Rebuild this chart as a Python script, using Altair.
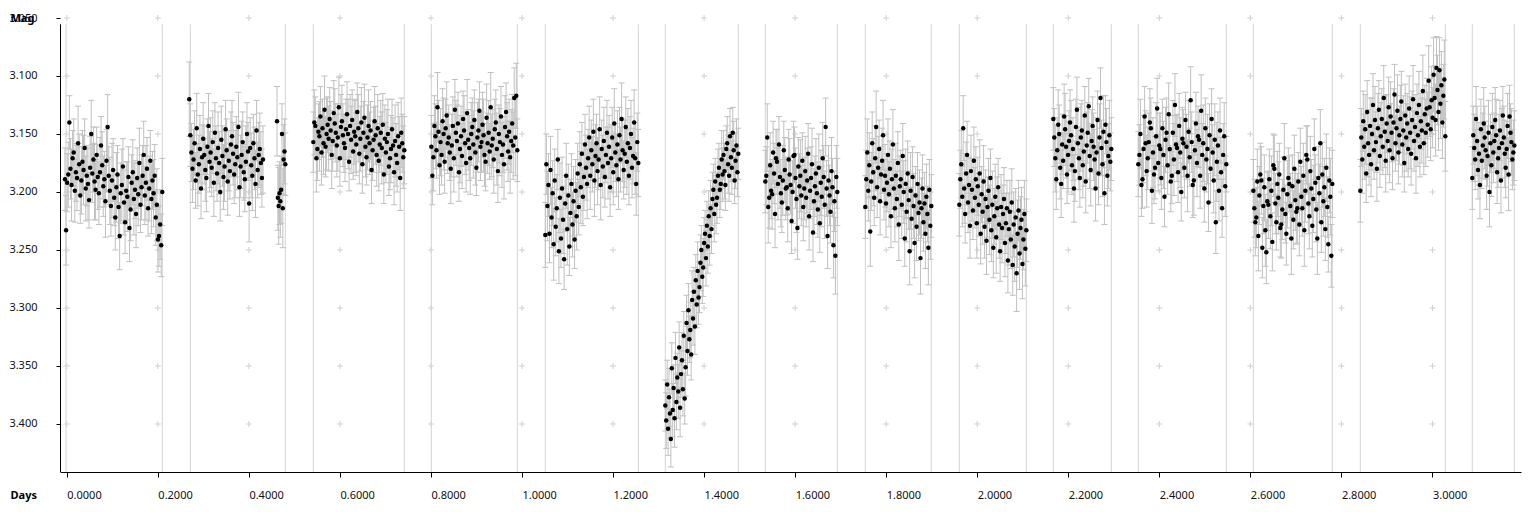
import altair as alt
import numpy as np
import pandas as pd

# ---- axis ticks / ranges -------------------------------------------------
X_TICKS = [0.0, 0.2, 0.4, 0.6, 0.8, 1.0, 1.2, 1.4, 1.6, 1.8, 2.0, 2.2, 2.4, 2.6, 2.8, 3.0]
Y_TICKS = [3.05, 3.10, 3.15, 3.20, 3.25, 3.30, 3.35, 3.40]
X_DOMAIN = [-0.01494, 3.1946]
Y_DOMAIN = [3.05, 3.44138]
Y_AXIS_TOP = 3.0554

# night boundaries (days)
SEPARATORS = [-0.0018, 0.2098, 0.2713, 0.4800, 0.5415, 0.7414, 0.8008, 0.9897,
              1.0512, 1.2555, 1.3148, 1.4752, 1.5345, 1.6927, 1.7542, 1.8992,
              1.9607, 2.1079, 2.1672, 2.2946, 2.3539, 2.5472, 2.6066, 2.7801,
              2.8416, 3.0283, 3.0876, 3.1799]

# ---- observations: magnitude - 3.000 and its error, both in thousandths --
M1 = [189,233,192,185,140,180,194,171,166,199, 183,188,158,176,203,190,174,181,162,197,
      186,193,207,179,150,184,172,191,198,168, 187,201,183,160,177,195,189,208,173,144,
      186,199,212,190,181,205,222,196,185,213, 238,201,194,178,209,226,199,204,187,231,
      215,192,183,206,198,219,188,202,175,211, 196,186,168,203,192,180,214,197,173,206,
      190,201,186,222,211,241,238,228,246,200]
E1 = [27,30,25,28,23,26,31,24,29,27, 25,28,32,26,24,29,27,30,25,28, 26,31,24,27,29,25,28,33,26,24,
      28,27,30,25,29,26,24,31,27,28, 25,29,26,32,27,24,28,30,25,27, 29,26,31,24,28,27,25,30,26,29,
      27,24,28,31,25,29,26,27,30,24, 28,26,29,25,32,27,24,28,26,30, 25,29,27,24,31,28,26,30,27,29]

M2A = [120,151,166,180,172,158,190,145,185,176, 163,197,170,154,168,181,188,161,143,174,
       166,179,157,192,149,171,184,162,175,200, 155,169,187,178,146,164,191,173,182,159,
       152,167,185,176,161,170,144,196,178,168, 157,183,189,174,150,165,210,162,177,186,
       158,171,193,147,181,168,163,175,188,172]
E2A = [32,27,25,29,26,28,24,30,27,25, 29,26,28,31,25,27,29,24,28,26, 30,25,27,29,26,28,24,31,27,25,
       29,26,28,30,25,27,29,26,24,28, 31,27,25,29,26,28,30,25,27,29, 26,24,28,31,27,25,33,26,28,30,
       25,27,29,26,24,28,31,27,25,29]

M2B = [139,205,212,201,208,198,150,214,172,165,176]
E2B = [30,28,33,27,31,29,26,34,30,28,27]

M3 = [157,140,143,171,163,148,152,135,166,145, 158,129,161,150,142,154,137,147,168,156,
      132,141,149,160,153,127,171,144,139,151, 158,162,146,133,150,174,143,155,138,165,
      148,152,159,131,145,167,154,140,176,149, 136,161,170,153,143,158,147,181,164,155,
      139,151,168,145,173,159,149,162,142,185, 154,166,157,150,178,171,163,146,160,183,
      156,168,175,152,161,188,149,158,170,164]
E3 = [26,28,25,29,27,24,30,26,28,25, 27,29,26,31,24,28,27,25,29,26, 28,30,25,27,29,26,24,28,31,27,
      25,29,26,28,30,25,27,29,26,24, 28,31,27,25,29,26,28,30,25,27, 29,26,24,28,31,27,25,29,26,28,
      30,25,27,29,26,24,28,31,27,25, 29,26,28,30,25,27,29,26,24,28, 31,27,25,29,26,28,30,25,27,29]

M4 = [161,186,170,143,152,164,127,148,177,157, 168,139,150,174,145,134,158,153,166,180,
      160,143,171,129,149,156,141,183,163,152, 169,137,147,158,175,132,155,162,171,150,
      144,159,138,166,179,153,147,130,161,157, 142,151,168,174,136,158,149,165,127,160,
      154,172,146,140,163,182,150,157,135,168, 159,176,144,131,152,165,148,170,156,141,
      160,119,153,117,164]
E4 = [27,25,29,26,28,24,30,27,25,29, 26,28,31,27,25,29,26,28,24,30, 27,25,29,26,28,31,27,25,29,26,
      28,24,30,27,25,29,26,28,31,27, 25,29,26,28,24,30,27,25,29,26, 28,31,27,25,29,26,28,24,30,27,
      25,29,26,28,31,27,25,29,26,28, 24,30,27,25,29,26,28,31,27,25, 29,26,33,28,27]

M5 = [237,176,212,194,236,181,222,201,245,190, 230,214,172,251,205,240,197,224,258,210,
      186,232,203,247,218,193,228,208,241,199, 221,184,213,176,196,167,204,187,159,179,
      193,171,153,186,164,176,148,190,169,158, 182,172,146,194,163,178,156,187,168,149,
      175,161,196,171,153,183,141,166,177,159, 189,151,172,137,164,181,167,144,174,158,
      186,162,150,179,169,140,171,193,157,175]
E5 = [28,26,30,27,25,29,26,28,31,27, 25,29,26,28,30,25,27,29,26,24, 28,31,27,25,29,26,28,30,25,27,
      29,26,24,28,31,27,25,29,26,28, 30,25,27,29,26,24,28,31,27,25, 29,26,28,30,25,27,29,26,24,28,
      31,27,25,29,26,28,30,25,27,29, 26,24,28,31,27,25,29,26,28,30, 25,27,29,26,24,28,31,27,25,29]

M6 = [384,397,366,404,377,391,413,352,388,369, 395,343,381,360,372,334,386,357,345,370,
      324,378,351,313,337,302,327,319,340,293, 309,286,316,276,297,268,291,282,261,250,
      273,265,244,236,257,229,247,221,238,214, 232,206,198,219,191,211,205,186,179,198,
      193,172,185,168,182,194,163,158,176,186, 152,170,179,149,164,190,173,160,183,167]
E6 = [22,24,21,23,25,21,24,22,23,20, 25,22,24,21,23,22,25,20,24,23, 21,22,25,24,21,23,20,24,22,25,
      23,21,24,22,20,25,23,22,24,21, 23,25,22,20,24,21,23,22,25,24, 21,23,22,24,20,25,22,23,21,24,
      22,25,23,21,24,22,20,23,25,22, 24,21,23,22,25,20,24,23,21,22]

M7 = [191,186,153,213,205,177,199,202,166,184, 219,171,174,193,159,187,201,209,190,164,
      181,197,196,214,172,185,194,225,200,169, 168,188,206,231,178,195,186,203,173,213,
      197,182,205,190,167,221,199,188,176,235, 208,195,184,201,215,179,227,192,204,171,
      187,211,144,197,238,190,203,217,182,196, 246,208,255,187,200]
E7 = [27,25,29,31,26,28,24,30,27,26, 29,25,28,31,24,27,29,26,30,25, 28,27,24,29,26,31,25,28,27,30,
      24,26,29,27,25,28,31,26,24,29, 27,30,25,28,26,29,24,27,31,25, 28,26,30,27,24,29,25,28,26,31,
      27,29,25,24,28,30,26,27,29,25, 28,26,33,27,29]

M8 = [213,189,166,199,177,234,191,158,183,205, 171,144,196,179,163,208,185,173,151,198,
      186,210,192,168,202,180,221,189,159,197, 214,186,206,175,228,195,189,211,169,200,
      240,193,217,184,207,251,199,223,187,212, 244,203,230,193,218,209,257,214,197,226,
      210,236,204,219,248,198,229,212]
E8 = [27,25,29,26,28,30,25,27,29,24, 28,31,26,27,25,29,24,28,30,26, 27,29,25,31,28,24,27,26,30,25,
      29,28,24,27,31,26,25,29,28,27, 24,30,26,28,25,29,33,27,26,28, 30,25,29,27,24,28,31,26,29,25,
      27,30,28,24,32,26,29,27]

M9 = [211,189,176,204,145,197,219,184,168,209, 194,229,182,198,216,173,205,189,227,195,
      211,184,236,202,217,191,230,206,242,213, 199,224,188,233,211,248,221,204,239,214,
      196,228,251,213,231,219,206,244,227,214, 259,232,217,241,209,263,228,247,222,270,
      236,216,253,231,224,262,241,219,249,233]
E9 = [27,25,29,26,28,30,25,27,29,26, 24,28,31,27,25,29,26,28,30,25, 27,29,26,24,28,31,27,25,29,26,
      28,30,25,27,29,26,24,28,31,27, 25,29,26,28,30,25,27,29,26,24, 28,31,27,25,29,26,28,30,25,33,
      29,26,31,27,28,30,26,29,32,27]

M10 = [137,153,171,189,164,142,150,179,193,159, 173,135,146,161,185,168,156,140,151,177,
       163,197,182,144,129,158,171,188,153,147, 177,165,134,191,160,149,126,169,181,156,
       143,161,172,197,166,138,184,153,119,162, 176,148,201,142,157,186,169,151,174,163]
E10 = [27,25,29,26,28,30,25,27,29,26, 24,28,31,27,25,29,26,28,30,25, 27,29,26,24,28,31,27,25,29,26,
       28,30,25,27,29,26,24,28,31,27, 25,29,26,28,30,25,27,29,26,24, 28,31,27,25,29,26,28,30,25,27]

M11 = [176,168,150,194,189,163,135,158,182,171, 157,140,145,199,166,185,179,152,128,175,
       160,163,188,145,168,204,155,149,177,133, 163,191,186,149,172,125,159,162,183,143,
       166,200,154,158,179,138,161,186,148,170, 121,157,194,190,164,141,175,152,155,186,
       130,168,158,197,145,172,163,209,151,180, 137,166,190,155,226,174,160,199,147,183,
       214,168,152,195,176]
E11 = [28,26,30,27,25,29,26,28,31,27, 25,29,26,28,30,25,27,29,26,24, 28,31,27,25,29,26,28,30,25,27,
       29,26,24,28,31,27,25,29,26,28, 30,25,27,29,26,24,28,31,27,25, 29,26,28,30,25,27,29,26,24,28,
       31,27,33,29,26,28,30,25,27,29, 26,24,28,31,27,34,29,26,28,30, 25,27,29,26,24]

M12 = [199,214,226,222,191,238,203,185,190,248, 212,196,233,252,208,211,189,221,199,243,
       177,180,210,226,193,205,185,231,228,215, 198,171,219,236,202,188,193,212,240,195,
       224,180,207,217,214,191,228,174,204,214, 186,233,199,168,172,210,221,182,197,229,
       206,163,192,215,240,188,201,158,226,185, 208,196,232,179,213,245,190,204,255,193]
E12 = [27,25,29,26,28,30,25,27,29,26, 24,28,31,27,25,29,26,28,30,25, 27,29,26,24,28,31,27,25,29,26,
       28,30,25,27,29,26,24,28,31,27, 25,29,26,28,30,25,27,29,26,24, 28,31,27,25,29,26,28,30,25,27,
       29,26,24,28,31,27,25,29,26,28, 30,25,27,29,26,24,28,33,27,29]

M13 = [199,153,172,139,161,146,184,131,158,168, 143,176,150,125,164,138,157,180,145,129,
       169,152,137,161,119,148,173,141,156,127, 164,135,149,171,140,116,158,145,130,166,
       151,137,122,159,147,175,134,153,141,163, 128,149,167,138,120,156,144,171,132,151,
       125,161,139,147,113,158,133,149,128,142, 104,127,146,121,136,99,119,138,93,112,
       131,95,124,108,140,117,103,152]
E13 = [27,25,29,26,28,30,25,27,29,26, 24,28,31,27,25,29,26,28,30,25, 27,29,26,24,28,31,27,25,29,26,
       28,30,25,27,29,26,24,28,31,27, 25,29,26,28,30,25,27,29,26,24, 28,31,27,25,29,26,28,30,25,27,
       29,26,24,28,31,27,25,29,26,28, 30,25,27,29,26,32,28,31,27,30, 33,28,30,29,31,27,34,30]

M14 = [188,151,162,172,137,156,181,167,194,146, 173,160,141,153,164,186,169,149,200,158,
       177,144,166,156,138,151,183,171,162,147, 190,158,134,153,167,179,163,143,185,135,
       149,157,172,166,160]
E14 = [27,25,29,26,28,30,25,27,29,26, 24,28,31,27,25,29,26,28,30,25, 27,29,26,24,28,31,27,25,29,26,
       28,30,25,27,29,26,24,28,31,27, 25,29,26,28,30]

# (start day, end day, magnitudes, errors)
SEGMENTS = [(-0.0040, 0.2098, M1, E1), (0.2690, 0.4310, M2A, E2A), (0.4618, 0.4800, M2B, E2B),
            (0.5415, 0.7414, M3, E3), (0.8008, 0.9897, M4, E4), (1.0512, 1.2555, M5, E5),
            (1.3148, 1.4752, M6, E6), (1.5345, 1.6927, M7, E7), (1.7542, 1.8992, M8, E8),
            (1.9607, 2.1079, M9, E9), (2.1672, 2.2946, M10, E10), (2.3539, 2.5472, M11, E11),
            (2.6066, 2.7801, M12, E12), (2.8416, 3.0283, M13, E13), (3.0876, 3.1799, M14, E14)]

rows = []
for t0, t1, mags, errs in SEGMENTS:
    n = min(len(mags), len(errs))
    times = np.linspace(t0, t1, n)
    for t, m, e in zip(times, mags[:n], errs[:n]):
        rows.append({"day": float(t), "mag": 3 + m / 1000.0,
                     "lo": 3 + (m - e) / 1000.0, "hi": 3 + (m + e) / 1000.0})
obs = pd.DataFrame(rows)

grid = pd.DataFrame([{"day": x, "mag": y} for x in X_TICKS for y in Y_TICKS])
seps = pd.DataFrame({"day": SEPARATORS, "top": Y_AXIS_TOP, "bottom": Y_DOMAIN[1]})
yline = pd.DataFrame({"top": [Y_AXIS_TOP], "bottom": [Y_DOMAIN[1]]})

FONT = "Noto Sans"
xs = alt.Scale(domain=X_DOMAIN, nice=False, zero=False)
ys = alt.Scale(domain=Y_DOMAIN, nice=False, zero=False, reverse=True)

x_axis = alt.Axis(values=X_TICKS, format=".4f", labelAlign="left", labelPadding=12,
                  tickSize=5, tickColor="#000", domainColor="#000", grid=False,
                  labelFont=FONT, labelFontSize=11, labelColor="#111",
                  labelFlush=False, labelOverlap=False,
                  title="Days", titleFont=FONT, titleFontSize=11, titleFontWeight="bold",
                  titleColor="#000", titleAngle=0, titleAlign="left", titleBaseline="middle",
                  titleX=-50, titleY=23)
y_axis = alt.Axis(values=Y_TICKS, format=".3f", domain=False, tickSize=4, tickColor="#000",
                  labelPadding=19, labelFont=FONT, labelFontSize=11, labelColor="#111",
                  labelBaseline="middle", grid=False, labelOverlap=False, labelFlush=False,
                  title="Mag", titleFont=FONT, titleFontSize=11, titleFontWeight="bold",
                  titleColor="#000", titleAngle=0, titleAlign="left", titleBaseline="middle",
                  titleX=-50, titleY=0)


def X(field):
    return alt.X(field, type="quantitative", scale=xs, axis=x_axis)


def Y(field):
    return alt.Y(field, type="quantitative", scale=ys, axis=y_axis)


crosses = alt.Chart(grid).mark_point(
    shape="M-1,0L1,0M0,-1L0,1", size=36, filled=False, stroke="#d0d0d0",
    strokeWidth=1, opacity=1
).encode(x=X("day"), y=Y("mag"))

separators = alt.Chart(seps).mark_rule(color="#d4d4d4", strokeWidth=1).encode(
    x=X("day"), y=Y("top"), y2="bottom:Q")

bars = alt.Chart(obs).mark_rule(color="#c0c0c0", strokeWidth=1).encode(
    x=X("day"), y=Y("lo"), y2="hi:Q")

caps_lo = alt.Chart(obs).mark_point(
    shape="M-1,0L1,0", size=36, filled=False, stroke="#c0c0c0", strokeWidth=1, opacity=1
).encode(x=X("day"), y=Y("lo"))
caps_hi = alt.Chart(obs).mark_point(
    shape="M-1,0L1,0", size=36, filled=False, stroke="#c0c0c0", strokeWidth=1, opacity=1
).encode(x=X("day"), y=Y("hi"))

points = alt.Chart(obs).mark_circle(size=20, color="#000", opacity=1).encode(
    x=X("day"), y=Y("mag"))

axis_line = alt.Chart(yline).mark_rule(color="#000", strokeWidth=1).encode(
    x=alt.value(0.5), y=Y("top"), y2="bottom:Q")

chart = alt.layer(crosses, separators, bars, caps_lo, caps_hi, points, axis_line).properties(
    width=1461, height=454,
    autosize=alt.AutoSizeParams(type="none"),
    padding={"left": 52, "top": 10, "right": 7, "bottom": 32},
    background="white",
).configure_view(stroke=None)

chart.save("out.html", embed_options={"renderer": "svg", "actions": False})
